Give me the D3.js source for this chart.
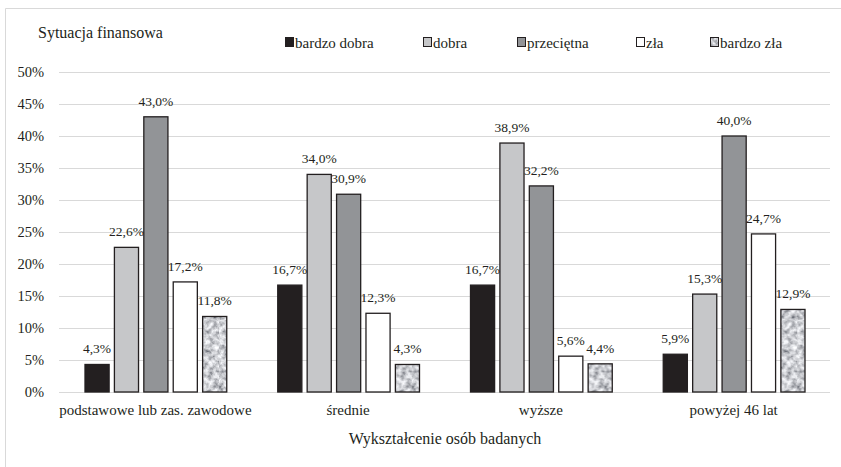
<!DOCTYPE html>
<html>
<meta charset="utf-8">
<head>
<script src="https://d3js.org/d3.v7.min.js"></script>
<title>Sytuacja finansowa</title>
<style>
html, body {
	margin: 0;
	padding: 0;
	background: white;
}
svg {
	display: block;
}
</style>
</head>
<body>
<svg></svg>
<script>
var width = 841;
var height = 467;
var serif = "Liberation Serif";

// data
var categories = ["podstawowe lub zas. zawodowe", "średnie", "wyższe", "powyżej 46 lat"];
var series = ["bardzo dobra", "dobra", "przeciętna", "zła", "bardzo zła"];
var bardzoDobra = [4.3, 16.7, 16.7, 5.9];
var dobra = [22.6, 34.0, 38.9, 15.3];
var przecietna = [43.0, 30.9, 32.2, 40.0];
var zla = [17.2, 12.3, 5.6, 24.7];
var bardzoZla = [11.8, 4.3, 4.4, 12.9];
var yTicks = [0, 5, 10, 15, 20, 25, 30, 35, 40, 45, 50];

var values = [bardzoDobra, dobra, przecietna, zla, bardzoZla];
var fills = ["#231f20", "#c6c7c9", "#929497", "#ffffff", "url(#granite)"];

var svg = d3.select("svg")
	.attr("width", width)
	.attr("height", height);

// granite texture for "bardzo zła"
var defs = svg.append("defs");
var filter = defs.append("filter")
	.attr("id", "noise")
	.attr("x", 0).attr("y", 0)
	.attr("width", "100%").attr("height", "100%");
filter.append("feTurbulence")
	.attr("type", "fractalNoise")
	.attr("baseFrequency", 0.2)
	.attr("numOctaves", 3)
	.attr("seed", 7);
filter.append("feColorMatrix")
	.attr("type", "matrix")
	.attr("values", "1.3 0 0 0 -0.04  1.3 0 0 0 -0.03  1.3 0 0 0 0.0  0 0 0 0 1");
var pat = defs.append("pattern")
	.attr("id", "granite")
	.attr("patternUnits", "userSpaceOnUse")
	.attr("width", 80)
	.attr("height", 80);
pat.append("rect")
	.attr("width", 80)
	.attr("height", 80)
	.attr("filter", "url(#noise)");

// chart frame (top and left edges only)
svg.append("path")
	.attr("d", "M5.5," + height + "V8.5H" + width)
	.attr("fill", "none")
	.attr("stroke", "#d9d9d9");

var x0 = d3.scaleBand()
	.domain(d3.range(categories.length))
	.range([59, 830]);

var x1 = d3.scaleBand()
	.domain(d3.range(series.length))
	.range([26, x0.bandwidth() - 25])
	.paddingInner(0.18);

var y = d3.scaleLinear()
	.domain([0, 50])
	.range([392, 72]);

// grid + y labels
var yAxis = d3.axisLeft(y)
	.tickValues(yTicks)
	.tickSize(-(830 - 59))
	.tickPadding(15)
	.tickFormat(function(d) { return d + "%"; });
var ya = svg.append("g")
	.attr("transform", "translate(59,0)")
	.call(yAxis);
ya.select(".domain").remove();
ya.selectAll(".tick line")
	.attr("stroke", "#d9d9d9")
	.attr("stroke-width", 1);
ya.selectAll(".tick text")
	.style("font-family", serif)
	.style("font-size", "14.5px")
	.attr("fill", "#231f20");

// bars
var groups = svg.append("g")
	.selectAll("g")
	.data(categories)
	.enter().append("g")
		.attr("transform", function(d, i) { return "translate(" + x0(i) + ",0)"; });

groups.selectAll("rect")
	.data(function(d, i) { return values.map(function(v, s) { return {s: s, v: v[i]}; }); })
	.enter().append("rect")
		.attr("x", function(d) { return x1(d.s); })
		.attr("y", function(d) { return y(d.v); })
		.attr("width", x1.bandwidth())
		.attr("height", function(d) { return y(0) - y(d.v); })
		.attr("fill", function(d) { return fills[d.s]; })
		.attr("stroke", "#231f20")
		.attr("stroke-width", 1.3);

groups.selectAll("text")
	.data(function(d, i) { return values.map(function(v, s) { return {s: s, v: v[i]}; }); })
	.enter().append("text")
		.attr("x", function(d) { return x1(d.s) + x1.bandwidth() / 2; })
		.attr("y", function(d) { return y(d.v) - 11; })
		.attr("text-anchor", "middle")
		.style("font-family", serif)
		.style("font-size", "13.5px")
		.attr("fill", "#231f20")
		.text(function(d) { return d.v.toFixed(1).replace(".", ",") + "%"; });

// category labels
svg.append("g")
	.selectAll("text")
	.data(categories)
	.enter().append("text")
		.attr("x", function(d, i) { return x0(i) + x0.bandwidth() / 2; })
		.attr("y", 415)
		.attr("text-anchor", "middle")
		.style("font-family", serif)
		.style("font-size", "15px")
		.attr("fill", "#231f20")
		.text(function(d) { return d; });

// axis title
svg.append("text")
	.attr("x", 445)
	.attr("y", 444)
	.attr("text-anchor", "middle")
	.style("font-family", serif)
	.style("font-size", "16px")
	.attr("fill", "#231f20")
	.text("Wykształcenie osób badanych");

// legend title
svg.append("text")
	.attr("x", 38)
	.attr("y", 38)
	.style("font-family", serif)
	.style("font-size", "16px")
	.attr("fill", "#231f20")
	.text("Sytuacja finansowa");

// legend
var legendX = [285, 423, 517, 636, 710];
var legend = svg.append("g")
	.selectAll("g")
	.data(series)
	.enter().append("g")
		.attr("transform", function(d, i) { return "translate(" + legendX[i] + ",48)"; });
legend.append("rect")
	.attr("x", 0.5)
	.attr("y", -10.5)
	.attr("width", 8)
	.attr("height", 9)
	.attr("fill", function(d, i) { return fills[i]; })
	.attr("stroke", "#231f20")
	.attr("stroke-width", 1);
legend.append("text")
	.attr("x", 10)
	.attr("y", 0)
	.style("font-family", serif)
	.style("font-size", "15px")
	.attr("fill", "#231f20")
	.text(function(d) { return d; });
</script>
</body>
</html>
